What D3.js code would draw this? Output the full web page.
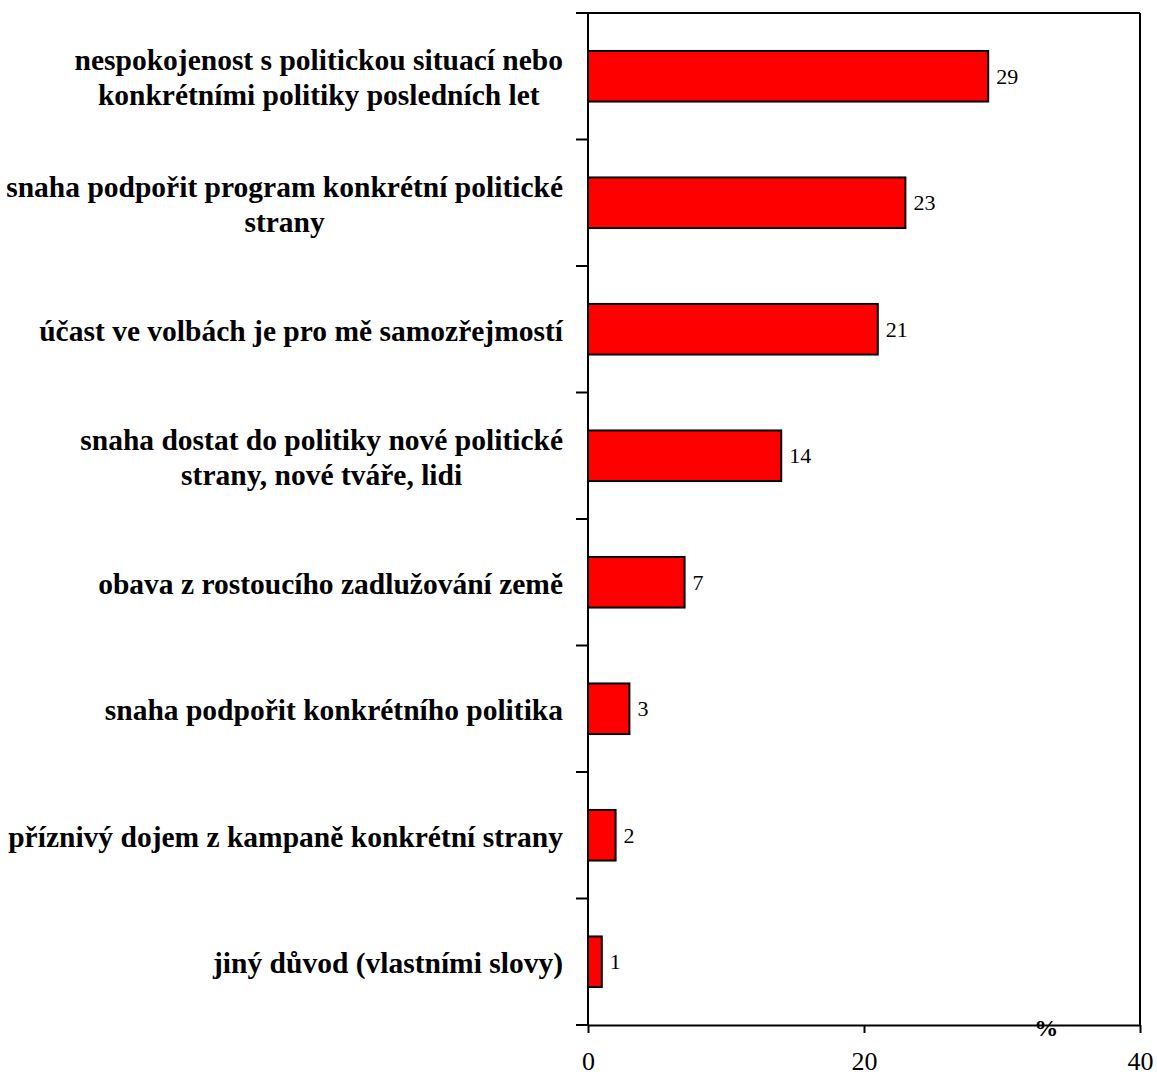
<!DOCTYPE html>
<html>
<head>
<meta charset="utf-8">
<script src="https://cdn.jsdelivr.net/npm/d3@7"></script>
<style>
  body { margin: 0; background: #fff; }
</style>
</head>
<body>
<div id="chart"></div>
<script>
const categories = [
    ["nespokojenost s politickou situací nebo", "konkrétními politiky posledních let"],
    ["snaha podpořit program konkrétní politické", "strany"],
    ["účast ve volbách je pro mě samozřejmostí"],
    ["snaha dostat do politiky nové politické", "strany, nové tváře, lidi"],
    ["obava z rostoucího zadlužování země"],
    ["snaha podpořit konkrétního politika"],
    ["příznivý dojem z kampaně konkrétní strany"],
    ["jiný důvod (vlastními slovy)"]
];
const values = [29, 23, 21, 14, 7, 3, 2, 1];
const xTicks = [0, 20, 40];

const serif = "'Liberation Serif'";
const W = 1157, H = 1077;
const margin = { top: 13, right: 17, bottom: 52, left: 588 };
const width = W - margin.left - margin.right,
      height = H - margin.top - margin.bottom;

const svg = d3.select("#chart")
    .append("svg")
    .attr("width", W)
    .attr("height", H);

const g = svg.append("g")
    .attr("transform", `translate(${margin.left},${margin.top})`);

const data = categories.map((c, i) => ({ id: i, lines: c, value: values[i] }));

const x = d3.scaleLinear().domain([0, 40]).range([0, width]);
const y = d3.scaleBand()
    .domain(data.map(d => d.id))
    .range([0, height])
    .paddingInner(0.6)
    .paddingOuter(0.3);

// frame: top and right
g.append("line")
    .attr("x1", 0).attr("x2", width)
    .attr("y1", 0).attr("y2", 0)
    .attr("stroke", "#000").attr("stroke-width", 2);
g.append("line")
    .attr("x1", width).attr("x2", width)
    .attr("y1", 0).attr("y2", height)
    .attr("stroke", "#000").attr("stroke-width", 2);

// Y axis: ticks at band boundaries
const step = y.step();
const bounds = d3.range(categories.length + 1).map(i => i * step);
g.append("line")
    .attr("x1", 0).attr("x2", 0)
    .attr("y1", 0).attr("y2", height)
    .attr("stroke", "#000").attr("stroke-width", 2);
g.selectAll(".ytick")
    .data(bounds)
    .enter()
    .append("line")
    .attr("x1", -12).attr("x2", 0)
    .attr("y1", d => d).attr("y2", d => d)
    .attr("stroke", "#000").attr("stroke-width", 2);

// X axis
const xAxis = g.append("g")
    .attr("transform", `translate(0,${height})`)
    .call(d3.axisBottom(x).tickValues(xTicks).tickSize(8).tickSizeOuter(0).tickPadding(19));
xAxis.attr("font-family", serif);
xAxis.select(".domain").attr("stroke-width", 2);
xAxis.selectAll(".tick line").attr("stroke-width", 2);
xAxis.selectAll("text")
    .attr("font-family", serif)
    .attr("font-size", 26)
    .attr("fill", "#000");

// Bars
g.selectAll(".bar")
    .data(data)
    .enter()
    .append("rect")
    .attr("x", 0)
    .attr("y", d => y(d.id))
    .attr("width", d => x(d.value))
    .attr("height", y.bandwidth())
    .attr("fill", "#ff0000")
    .attr("stroke", "#000")
    .attr("stroke-width", 2);

// Value labels
g.selectAll(".val")
    .data(data)
    .enter()
    .append("text")
    .attr("x", d => x(d.value) + 8)
    .attr("y", d => y(d.id) + y.bandwidth() / 2)
    .attr("dy", "0.35em")
    .attr("font-family", serif)
    .attr("font-size", 22)
    .text(d => d.value);

// Category labels, centred block, right edge at fixed position
const labelRight = -25;
const lineH = 35;
data.forEach(d => {
    const t = g.append("text")
        .attr("font-family", serif)
        .attr("font-size", 29.5)
        .attr("font-weight", "bold");
    const spans = d.lines.map(l => t.append("tspan").text(l));
    const maxW = d3.max(spans, s => s.node().getComputedTextLength());
    const cx = labelRight - maxW / 2;
    const cy = y(d.id) + y.bandwidth() / 2 + 1;
    const n = d.lines.length;
    spans.forEach((s, i) => {
        s.attr("x", cx)
         .attr("y", cy + (i - (n - 1) / 2) * lineH)
         .attr("dy", "0.35em")
         .attr("text-anchor", "middle");
    });
});

// % label
g.append("text")
    .attr("x", x(33.2))
    .attr("y", height + 11)
    .attr("text-anchor", "middle")
    .attr("font-family", serif)
    .attr("font-size", 24)
    .attr("font-weight", "bold")
    .text("%");
</script>
</body>
</html>
